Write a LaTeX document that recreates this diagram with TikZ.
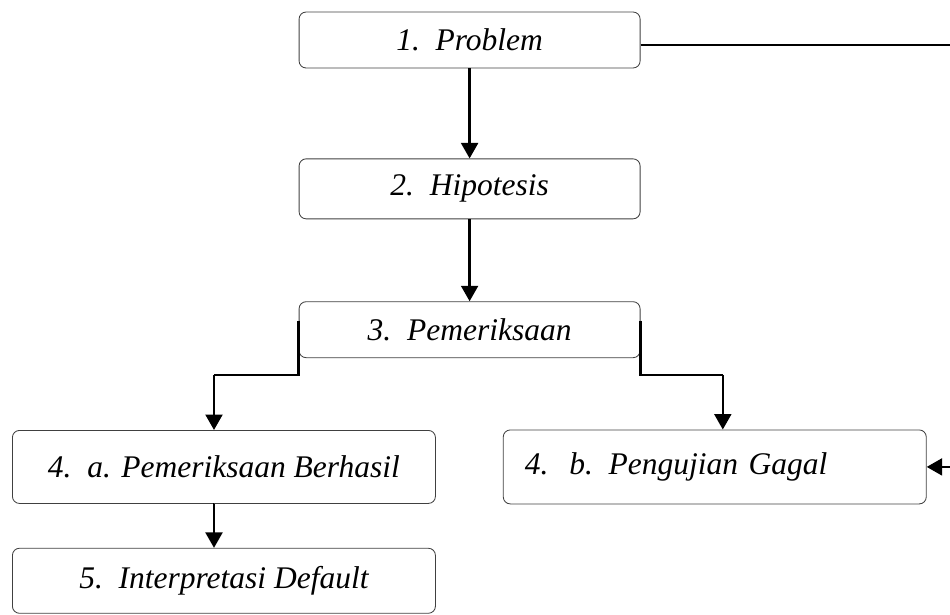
\documentclass[tikz,border=0pt]{standalone}
\usepackage{fontspec}
\setmainfont{Liberation Serif}[ItalicFont=* Italic]
\usetikzlibrary{arrows.meta, positioning, calc}
\tikzset{
  stage/.style={rectangle, rounded corners=5pt, minimum width=8.525cm, minimum height=1.4cm,
    align=center, draw=black!75, line width=0.6pt, font=\itshape\fontsize{22.4}{26}\selectfont},
  result/.style={stage, minimum width=10.575cm, minimum height=1.825cm},
  arr/.style={-{Triangle[length=11pt, width=12pt]}, line width=1.8pt, draw=black},
  link/.style={line width=1.8pt, draw=black},
}

\begin{document}
\begin{tikzpicture}
  \useasboundingbox (0,0) rectangle (23.75,-15.35);

  \node[stage] (p1) at (11.74,-1.0) {1.\ \ Problem};
  \node[stage, minimum height=1.5cm, below=2.25cm of p1] (p2) {2.\ \ Hipotesis};
  \node[stage, below=2.05cm of p2] (p3) {3.\ \ Pemeriksaan};
  \node[result, anchor=north west] (p4a) at (0.3,-10.75) {4.\ \ a. Pemeriksaan Berhasil};
  \node[result, right=1.675cm of p4a, align=left, text width=9.5cm, inner xsep=0.525cm,
    minimum height=1.85cm] (p4b) {4.\ \ b. Pengujian Gagal};
  \node[result, minimum height=1.625cm, below=1.1cm of p4a] (p5) {5.\ \ Interpretasi Default};

  % turning points of the branches and the return line
  \coordinate (leftx) at (5.35,0);
  \coordinate (rightx) at (18.07,0);
  \coordinate (edge) at (24.2,0);
  \coordinate (split) at (0,-9.37);

  \draw[arr] (p1) -- (p2);
  \draw[arr] (p2) -- (p3);
  \draw[link] ([yshift=0.225cm]p3.west) -- (p3.west |- split) -- (leftx |- split);
  \draw[arr] (leftx |- split) -- (leftx |- p4a.north);
  \draw[link] ([yshift=0.225cm]p3.east) -- (p3.east |- split) -- (rightx |- split);
  \draw[arr] (rightx |- split) -- (rightx |- p4b.north);
  \draw[arr] (p4a) -- (p4a.south -| leftx) -- (leftx |- p5.north);
  \draw[arr] ([yshift=-0.13cm]p1.east) -- ([yshift=-0.13cm]p1.east -| edge) |- (p4b.east);
\end{tikzpicture}
\end{document}
